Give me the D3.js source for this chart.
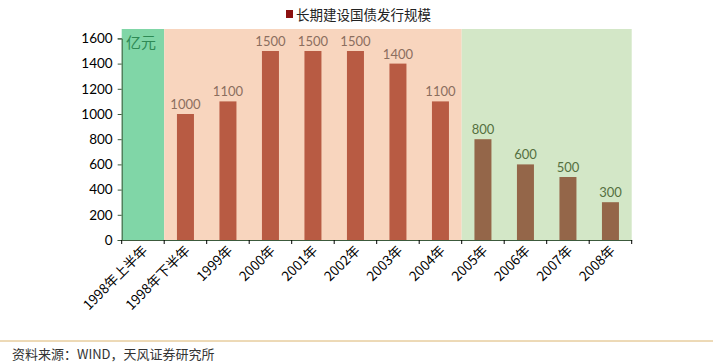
<!DOCTYPE html>
<html><head><meta charset="utf-8">
<script src="https://cdn.jsdelivr.net/npm/d3@7"></script>
<style>body{margin:0;background:#fff;} svg{display:block;}</style>
</head><body>
<svg id="c" width="723" height="364"></svg>
<script>
const categories = ["1998年上半年","1998年下半年","1999年","2000年","2001年","2002年","2003年","2004年","2005年","2006年","2007年","2008年"];
const values = [null,1000,1100,1500,1500,1500,1400,1100,800,600,500,300];
const yTicks = [0,200,400,600,800,1000,1200,1400,1600];
const bands = [
  {from:"1998年上半年", to:"1998年上半年", fill:"#80d6a7"},
  {from:"1998年下半年", to:"2004年", fill:"#f8d5be"},
  {from:"2005年", to:"2008年", fill:"#d3e7c7"}
];
const seriesName = "长期建设国债发行规模";
const unit = "亿元";
const source = "资料来源：WIND，天风证券研究所";

const svg = d3.select("#c");
const L = 121.7, R = 631.7, B = 240, T = 29;
const x = d3.scaleBand().domain(categories).range([L, R]).paddingInner(0.6).paddingOuter(0.3);
const xb = d3.scaleBand().domain(categories).range([L, R]);
const y = d3.scaleLinear().domain([0,1600]).range([B, 38.4]);
const font = "'Noto Sans CJK SC', 'Lato', sans-serif";
const numFont = "'Lato', 'Open Sans', sans-serif";

bands.forEach(b=>{
  svg.append("rect").attr("x", xb(b.from)).attr("y", T)
    .attr("width", xb(b.to)+xb.bandwidth()-xb(b.from)).attr("height", B-T).attr("fill", b.fill);
});

const idxGreen = categories.indexOf("2005年");
categories.forEach((c,i)=>{
  const v = values[i];
  if (v==null) return;
  const col = i>=idxGreen ? "#946649" : "#b85b43";
  svg.append("rect").attr("x", x(c)).attr("y", y(v)).attr("width", x.bandwidth()).attr("height", B-y(v)).attr("fill", col);
  svg.append("text").attr("x", x(c)+x.bandwidth()/2).attr("y", y(v)-5).attr("text-anchor","middle")
    .attr("font-family", numFont).attr("font-size", 13).attr("fill", i>=idxGreen ? "#55703f" : "#8b6e5e").text(v);
});

const ya = svg.append("g").attr("transform", `translate(${L},0)`)
  .call(d3.axisLeft(y).tickValues(yTicks).tickFormat(d3.format("d")).tickSize(4).tickPadding(5));
ya.select(".domain").attr("stroke","#3c5a3c");
ya.selectAll(".tick line").attr("stroke","#3c5a3c");
ya.selectAll("text").attr("font-family", numFont).attr("font-size", 13.5).attr("fill","#000");

const xa = svg.append("g").attr("transform", `translate(0,${B})`)
  .call(d3.axisBottom(xb).tickSize(0).tickFormat(""));
xa.select(".domain").attr("stroke","#3c5a3c");
const bounds = categories.map(c=>xb(c)).concat([R]);
svg.selectAll(".xt").data(bounds).enter().append("line")
  .attr("x1", d=>d).attr("x2", d=>d).attr("y1", B).attr("y2", B+4).attr("stroke","#000");
categories.forEach(c=>{
  const cx = xb(c)+xb.bandwidth()/2;
  svg.append("text").attr("transform", `translate(${cx+2},${B+8}) rotate(-45)`)
    .attr("text-anchor","end").attr("dy","0.35em")
    .attr("font-family", font).attr("font-size", 13.5).attr("fill","#000").text(c);
});

svg.append("text").attr("x", 126).attr("y", 48).attr("font-family", font).attr("font-size", 15).attr("fill","#2f8a55").text(unit);

svg.append("rect").attr("x", 286).attr("y", 10).attr("width", 7).attr("height", 8).attr("fill","#8b1010");
svg.append("text").attr("x", 296).attr("y", 19.5).attr("font-family", font).attr("font-size", 13.5).attr("fill","#222").text(seriesName);

svg.append("line").attr("x1",0).attr("x2",713).attr("y1",341).attr("y2",341).attr("stroke","#dbb46e").attr("stroke-width",1);
svg.append("text").attr("x", 12).attr("y", 359).attr("font-family", font).attr("font-size", 13).attr("fill","#333").text(source);
</script>
</body></html>
